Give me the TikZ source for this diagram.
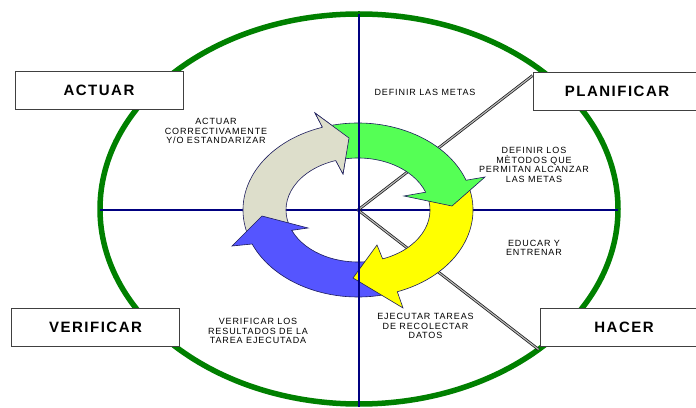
\documentclass[tikz,border=0pt]{standalone}
\usepackage{fontspec}
\setmainfont{Liberation Sans}
\newfontfamily\lblfont[LetterSpace=10]{Liberation Sans}
\newfontfamily\boxfont[LetterSpace=10]{Liberation Sans}
\usetikzlibrary{calc}

\definecolor{ringgreen}{HTML}{008000}
\definecolor{axisblue}{HTML}{000080}
\definecolor{arrgreen}{HTML}{55FF55}
\definecolor{arryellow}{HTML}{FFFF00}
\definecolor{arrblue}{HTML}{5555FF}
\definecolor{arrgray}{HTML}{DDDECB}
\definecolor{arrline}{HTML}{1C1C5C}

\pgfdeclarelayer{back}
\pgfsetlayers{back,main}

\tikzset{
  ring/.style={draw=ringgreen, line width=5.5pt},
  axis/.style={draw=axisblue, line width=2.2pt},
  link/.style={draw=black!90, line width=0.75pt, double=gray!55, double distance=1.2pt},
  arrowbody/.style={draw=arrline, line width=0.6pt, line join=miter},
  phasebox/.style={draw=black!75, line width=0.9pt, fill=white, minimum width=168pt,
    minimum height=38pt, inner sep=0pt, font=\boxfont\fontsize{15}{17}\selectfont\bfseries},
  note/.style={align=center, inner sep=0pt, font=\lblfont\fontsize{9}{9.7}\selectfont}
}

% curved band arrow: colour, tail angle, base angle, outer wing, tip, inner wing
\newcommand\bandarrow[6]{%
  \filldraw[arrowbody, fill=#1]
    ($(O)+(#2:115 and 87)$) arc[start angle=#2, end angle=#3, x radius=115, y radius=87]
    -- ($(O)+#4$) -- ($(O)+#5$) -- ($(O)+#6$)
    -- ($(O)+(#3:72 and 52)$) arc[start angle=#3, end angle=#2, x radius=72, y radius=52]
    -- cycle;}
% arrow head only: colour, base angle, outer wing, tip, inner wing
\newcommand\bandhead[5]{%
  \fill[#1] ($(O)+(#2:115 and 87)$) -- ($(O)+#3$) -- ($(O)+#4$) -- ($(O)+#5$)
    -- ($(O)+(#2:72 and 52)$) -- cycle;
  \draw[arrowbody] ($(O)+(#2:115 and 87)$) -- ($(O)+#3$) -- ($(O)+#4$) -- ($(O)+#5$)
    -- ($(O)+(#2:72 and 52)$);}

\begin{document}
\begin{tikzpicture}[x=1pt, y=1pt]
  \useasboundingbox (0,0) rectangle (696,407);

  % centre of the cycle
  \coordinate (O) at (358,197);

  % phase boxes
  \node[phasebox] (actuar)     at (99,317)  {ACTUAR};
  \node[phasebox] (planificar) at (617,316) {PLANIFICAR};
  \node[phasebox] (verificar)  at (95.5,80) {VERIFICAR};
  \node[phasebox] (hacer)      at (624,80)  {HACER};

  % step descriptions
  \node[note] (nAct)  at (216,276) {ACTUAR\\CORRECTIVAMENTE\\Y/O ESTANDARIZAR};
  \node[note] (nMet)  at (425,315) {DEFINIR LAS METAS};
  \node[note] (nMeto) at (534,242) {DEFINIR LOS\\MÈTODOS QUE\\PERMITAN ALCANZAR\\LAS METAS};
  \node[note] (nEdu)  at (534,159) {EDUCAR Y\\ENTRENAR};
  \node[note] (nEje)  at (425.5,81) {EJECUTAR TAREAS\\DE RECOLECTAR\\DATOS};
  \node[note] (nVer)  at (258,76)  {VERIFICAR LOS\\RESULTADOS DE LA\\TAREA EJECUTADA};

  \begin{pgfonlayer}{back}
    \fill[white] (0,0) rectangle (696,407);

    % outer ellipse
    \draw[ring] (359,198) ellipse[x radius=259, y radius=195];

    % horizontal axis
    \coordinate (axL) at (100,197);
    \coordinate (axR) at (618,197);
    \draw[axis] (axL) -- (axR);

    % links from the centre to the boxes
    \draw[link] (O) -- ($(planificar.north west)+(0,-4)$);
    \draw[link] (O) -- ($(hacer.south west)+(-1,-3)$);

    % cycle of arrows
    \bandarrow{arrgray}{-163}{-252}{(-43,97)}{(-9,72)}{(-15,36)}
    \bandarrow{arrblue}{-75}{-157}{(-126,-36)}{(-96,-6)}{(-50,-18)}
    \bandarrow{arryellow}{16}{-70}{(45,-98)}{(-5,-68)}{(19,-35)}
    \bandarrow{arrgreen}{105}{20}{(127,33)}{(94,4)}{(46,14)}
    \bandhead{arrgray}{-252}{(-43,97)}{(-9,72)}{(-15,36)}

    % vertical axis
    \coordinate (axT) at (359,393);
    \coordinate (axB) at (359,0);
    \draw[axis] (axT) -- (axB);
  \end{pgfonlayer}
\end{tikzpicture}
\end{document}
